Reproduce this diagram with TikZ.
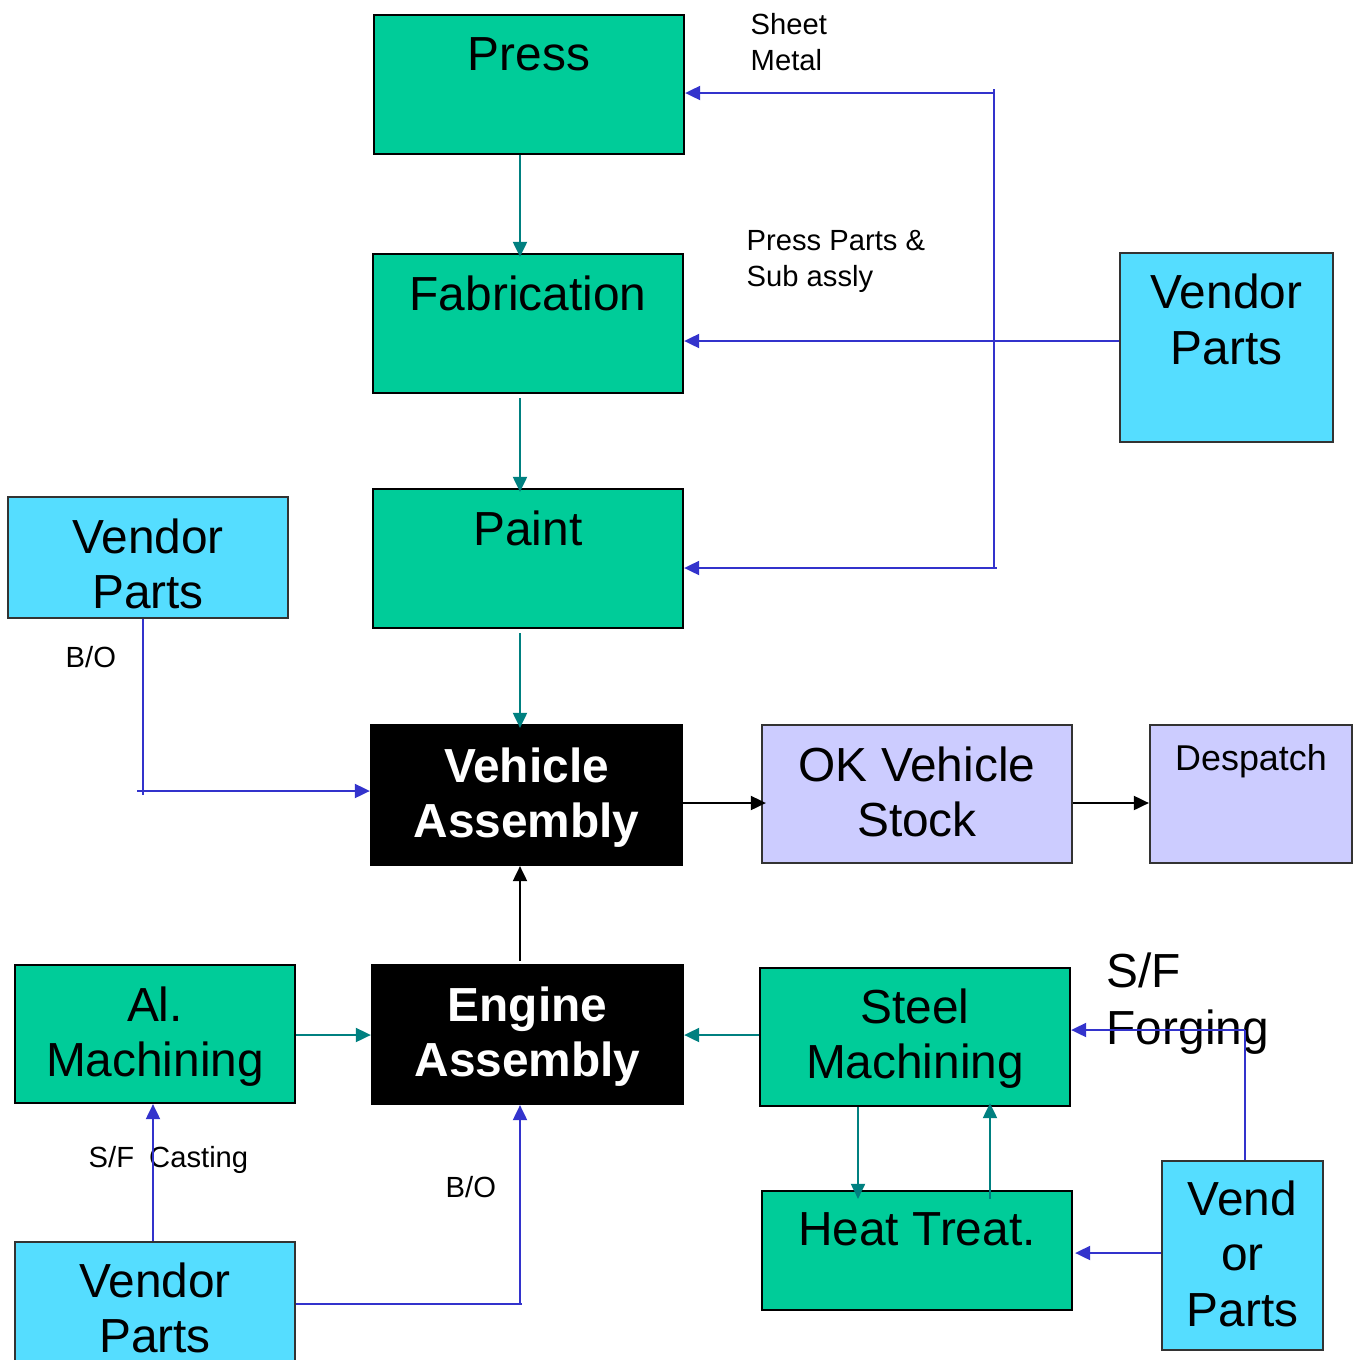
\documentclass[tikz,border=0pt]{standalone}
\usepackage{fontspec}
\setmainfont{Liberation Sans}
\usetikzlibrary{arrows.meta,calc}
\definecolor{gfill}{HTML}{00CC99}
\definecolor{cfill}{HTML}{55DDFF}
\definecolor{lfill}{HTML}{CCCCFF}
\definecolor{bline}{HTML}{3333CC}
\definecolor{tline}{HTML}{008080}
\tikzset{
  box/.style={draw=black, line width=0.6pt, inner sep=0pt, rectangle},
  gbox/.style={box, fill=gfill},
  cbox/.style={box, fill=cfill, draw=black!80},
  lbox/.style={box, fill=lfill, draw=black!80},
  kbox/.style={box, fill=black},
  ttext/.style={inner sep=0pt, anchor=base, align=center, font=\fontsize{13.6pt}{15.9pt}\selectfont},
  wtext/.style={ttext, text=white, font=\fontsize{13.6pt}{15.9pt}\selectfont\bfseries},
  stext/.style={inner sep=0pt, anchor=base west, align=left, font=\fontsize{8.3pt}{10pt}\selectfont},
  btip/.style={-{Triangle[length=0.15cm,width=0.14cm]}},
  bconn/.style={draw=bline, line width=0.55pt, btip},
  tconn/.style={draw=tline, line width=0.55pt, btip},
  kconn/.style={draw=black, line width=0.55pt, btip},
  bplain/.style={draw=bline, line width=0.55pt},
}
\begin{document}
\begin{tikzpicture}[x=0.01cm,y=-0.01cm]
\useasboundingbox (0,0) rectangle (1359,1360);
% boxes
\node[gbox, minimum width=3.10cm, minimum height=1.39cm] (press) at (529,84.5) {};
\node[gbox, minimum width=3.10cm, minimum height=1.39cm] (fab) at (528,323.5) {};
\node[gbox, minimum width=3.10cm, minimum height=1.39cm] (paint) at (528,558.5) {};
\node[kbox, minimum width=3.11cm, minimum height=1.40cm] (va) at (526.5,795) {};
\node[lbox, minimum width=3.10cm, minimum height=1.38cm] (ok) at (917,794) {};
\node[lbox, minimum width=2.02cm, minimum height=1.38cm] (desp) at (1251,794) {};
\node[cbox, minimum width=2.13cm, minimum height=1.89cm] (vr) at (1226.5,347.5) {};
\node[cbox, minimum width=2.80cm, minimum height=1.21cm] (vl) at (148,557.5) {};
\node[gbox, minimum width=2.80cm, minimum height=1.38cm] (al) at (155,1034) {};
\node[kbox, minimum width=3.11cm, minimum height=1.39cm] (ea) at (527.5,1034.5) {};
\node[gbox, minimum width=3.10cm, minimum height=1.38cm] (sm) at (915,1037) {};
\node[gbox, minimum width=3.10cm, minimum height=1.19cm] (ht) at (917,1250.5) {};
\node[cbox, minimum width=2.80cm, minimum height=1.40cm] (vb) at (155,1312) {};
\node[cbox, minimum width=1.61cm, minimum height=1.89cm] (vo) at (1242.5,1255.5) {};
% box texts (anchor = baseline of last line)
\node[ttext] (tpress) at ($(press.north)+(0,57)$) {Press};
\node[ttext] (tfab) at ($(fab.north)+(0,58)$) {Fabrication};
\node[ttext] (tpaint) at ($(paint.north)+(0,58)$) {Paint};
\node[wtext] (tva) at ($(va.north)+(0,114)$) {Vehicle\\Assembly};
\node[ttext] (tok) at ($(ok.north)+(0,113)$) {OK Vehicle\\Stock};
\node[ttext, font=\fontsize{10.2pt}{12pt}\selectfont] (tdesp) at ($(desp.north)+(0,47)$) {Despatch};
\node[ttext] (tvr) at ($(vr.north)+(0,113)$) {Vendor\\Parts};
\node[ttext] (tvl) at ($(vl.north)+(0,113)$) {Vendor\\Parts};
\node[ttext] (tal) at ($(al.north)+(0,113)$) {Al.\\Machining};
\node[wtext] (tea) at ($(ea.north)+(0,113)$) {Engine\\Assembly};
\node[ttext] (tsm) at ($(sm.north)+(0,112)$) {Steel\\Machining};
\node[ttext] (tht) at ($(ht.north)+(0,56)$) {Heat Treat.};
\node[ttext] (tvb) at ($(vb.north)+(0,112)$) {Vendor\\Parts};
\node[ttext] (tvo) at ($(vo.north)+(0,167)$) {Vend\\or\\Parts};
% free labels (anchor = baseline of last line)
\node[stext] (lsheet) at (750,70) {Sheet\\Metal};
\node[stext] (lpress) at (746,286) {Press Parts \&\\Sub assly};
\node[stext] (lbo1) at (65,667) {B/O};
\node[stext] (lcast) at (88,1167) {S/F\hspace{4.3pt}Casting};
\node[stext] (lbo2) at (445,1197) {B/O};
\node[stext, font=\fontsize{13.6pt}{16.2pt}\selectfont] (lforge) at (1106,1044) {S/F\\Forging};
% helper coordinates
\coordinate (jt) at (994,89);
\coordinate (j1) at (994,93);
\coordinate (j2) at (994,568);
\coordinate (j2e) at (997,568);
\coordinate (yf) at (0,341);
\coordinate (cv1) at (143,795);
\coordinate (cv0) at (137,791);
\coordinate (yv) at (0,803);
\coordinate (ye) at (0,1035);
\coordinate (xa) at (520,0);
\coordinate (xal) at (153,0);
\coordinate (cb) at (520,1304);
\coordinate (cbe) at (522,1304);
\coordinate (yh) at (0,1253);
\coordinate (cs) at (1245,1030);
\coordinate (xs1) at (858,0);
\coordinate (xs2) at (990,0);
% blue connectors top right
\draw[bplain] (jt) -- (j2) -- (j2e);
\draw[bconn] (j1) -- (press.east |- j1);
\draw[bconn] (vr.west |- yf) -- (fab.east |- yf);
\draw[bconn] (j2) -- (paint.east |- j2);
% teal vertical chain
\draw[tconn] (press.south -| xa) -- ([yshift=-0.04cm]fab.north -| xa);
\draw[tconn] ([yshift=-0.04cm]fab.south -| xa) -- ([yshift=-0.04cm]paint.north -| xa);
\draw[tconn] ([yshift=-0.04cm]paint.south -| xa) -- ([yshift=-0.04cm]va.north -| xa);
% left vendor to vehicle assembly
\draw[bplain] (vl.south -| cv1) -- (cv1);
\draw[bconn] (cv0) -- (va.west |- cv0);
% black connectors
\draw[kconn] ([yshift=0.03cm]ea.north -| xa) -- (va.south -| xa);
\draw[kconn] (va.east |- yv) -- ([xshift=0.05cm]ok.west |- yv);
\draw[kconn] (ok.east |- yv) -- (desp.west |- yv);
% engine inputs
\draw[tconn] (al.east |- ye) -- (ea.west |- ye);
\draw[tconn] (sm.west |- ye) -- (ea.east |- ye);
% steel <-> heat treat
\draw[tconn] (sm.south -| xs1) -- ([yshift=-0.09cm]ht.north -| xs1);
\draw[tconn] ([yshift=-0.09cm]ht.north -| xs2) -- ([yshift=0.04cm]sm.south -| xs2);
% bottom vendor
\draw[bconn] (vb.north -| xal) -- (al.south -| xal);
\draw[bplain] (vb.east |- cb) -- (cbe);
\draw[bconn] (cb) -- (ea.south -| xa);
% vend or parts
\draw[bconn] (vo.west |- yh) -- ([xshift=0.02cm]ht.east |- yh);
\draw[bplain] (vo.north -| cs) -- (cs);
\draw[bconn] (cs) -- (sm.east |- cs);
\end{tikzpicture}
\end{document}
